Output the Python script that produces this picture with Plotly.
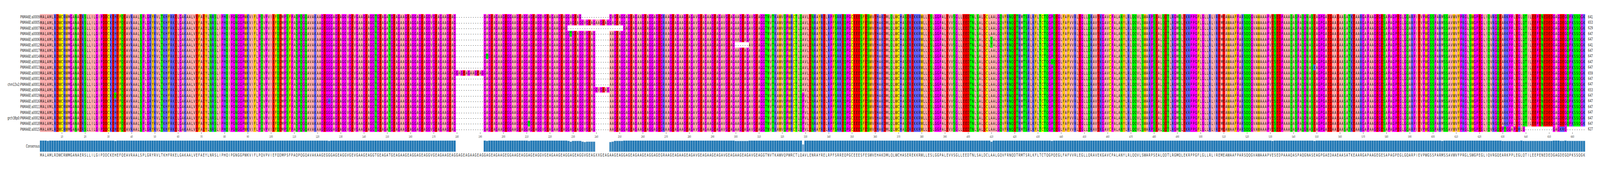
import plotly.graph_objects as go

names = ["PNMA6E:a0009", "PNMA6E:a0005", "PNMA6E:a0007", "PNMA6E:a0008", "PNMA6E:a0006",
         "PNMA6E:a0012", "PNMA6E:a0017", "PNMA6E:a0014", "PNMA6E:a0010", "PNMA6E:a0013",
         "PNMA6E:a0003", "PNMA6E:a0001", "chm13v2:PNMA6E:a0001", "PNMA6E:a0004", "PNMA6E:a0019",
         "PNMA6E:a0016", "PNMA6E:a0011", "PNMA6E:a0002", "grch38p0:PNMA6E:a0002", "PNMA6E:a0018",
         "PNMA6E:a0015"]

# majority row of the alignment, 665 columns, in blocks of ten
base = ("MALAMLRDWC" "RWMGANAERS" "LLILGIPDDC" "KEHEFQEAVR" "AALSPLGRYR"
        "VLTKHFRKEL" "GAKAALVEFA" "EYLNRSLIPH" "QIPGNGGPWK" "VIFLPQVPVI"
        "EFQDMPSFPA" "QPQGQAVAKA" "AGEGGGAGEA" "GGVGEVGAAG" "EAGGTGEAGA"
        "TGEAGAAGEA" "GGAGEAGGVG" "EAGAAGEAG-" "----------" "-GAGEAGAAG"
        "EGGAAGEAGG" "AGEAGGVGEA" "GAAGEAGGAG" "EAGGVGEAG-" "-----AAGEA"
        "GGAGEAGAAG" "EAGGAGEGRA" "AGEAGAAGEA" "GAVGEAGAAG" "EAGAVGEAGA"
        "AGEAGAVGEA" "GGTNVTKAWV" "QPWRCTLQAV" "LENRAYRELR" "PFSRREQPGC"
        "EEESFESWVE" "HAKDMLQLWC" "HASEREKKRW" "LLESLGGPAL" "EVVSGLLEED"
        "TNLSALDCLA" "ALGQVFRNQD" "TRMTSRLKFL" "TCTQGPQEGL" "FAFVVRLEGL"
        "LQRAVEKGAV" "CPALANYLRL" "QQVLSWARPS" "EALQDTLRGM" "QLEKRPPGFL"
        "GLLRLIREME" "AWAAFPARSQ" "QGVAWAAAPV" "ESEDPAAAQA" "SPAQGNASEA"
        "GPGAEDAAEA" "ASATKEAARG" "APAAGEGESA" "PAGPEGLGQA" "RPIEVPWGSS"
        "PARMSSAVWV" "FPRGLSWGPE" "GLIQVRGQEA" "RKPPLEGLQT" "ILEEPENEDE"
        "DGAGDEGQPK" "SSQGK")

# (row, first column, residues) that differ from the majority row
edits = [
    (16, 4, "V"), (14, 33, "Q"), (15, 125, "R"), (10, 180, "GAGEAGAAGEAG"),
    (7, 193, "T"), (19, 211, "T"), (3, 229, "T"),
    (0, 234, "------------GV"), (1, 240, "AAGEAGG"), (13, 235, "A"), (13, 240, "GVGEAG"),
    (2, 228, "------------------------"), (5, 300, "------"),
    (14, 329, "P"), (15, 329, "P"), (16, 329, "P"), (17, 329, "P"), (18, 329, "P"),
    (19, 329, "P"), (20, 329, "P"), (4, 410, "T"), (5, 410, "T"), (8, 436, "S"),
    (6, 531, "D"), (9, 549, "K"), (9, 604, "V"),
    (20, 630, "PTGGAPDH"), (20, 639, "G------------GAGKRG--------"),
]

groups = {"-": 0, "I": 1, "L": 1, "V": 1, "A": 1, "M": 1, "F": 2, "W": 2, "Y": 2,
          "K": 3, "R": 3, "H": 3, "D": 4, "E": 4, "S": 5, "T": 5, "N": 5, "Q": 5,
          "P": 6, "G": 6, "C": 7, "X": 0}
colors = ["#ffffff", "#ffafaf", "#ffc800", "#6464ff", "#ff0000", "#00ff00", "#ff00ff", "#ffff00"]

seqs = []
for r in range(len(names)):
    s = list(base)
    for row, start, res in edits:
        if row == r:
            s[start - 1:start - 1 + len(res)] = list(res)
    seqs.append(s)

ncol = len(base)
cols = list(range(1, ncol + 1))
z = [[groups[c] for c in s] for s in seqs]

cons, frac = [], []
for j in range(ncol):
    column = [s[j] for s in seqs]
    counts = {}
    for c in column:
        if c != "-":
            counts[c] = counts.get(c, 0) + 1
    top = max(counts.values())
    best = [c for c in counts if counts[c] == top]
    cons.append(best[0] if len(best) == 1 else "X")
    gaps = column.count("-")
    frac.append(0 if gaps > top else top / len(seqs))

lengths = [sum(1 for c in s if c != "-") for s in seqs]

cscale = []
for i, c in enumerate(colors):
    cscale.append([i / 8, c])
    cscale.append([(i + 1) / 8, c])

fig = go.Figure()
fig.add_trace(go.Heatmap(
    x=cols, y=list(range(len(names))), z=z, text=seqs, texttemplate="%{text}",
    textfont=dict(size=11, color="black", family="DejaVu Sans"),
    colorscale=cscale, zmin=-0.5, zmax=7.5, showscale=False, hoverinfo="skip",
    xaxis="x", yaxis="y"))
fig.add_trace(go.Bar(
    x=cols, y=frac, marker=dict(color="#1f77b4", opacity=[max(f, 0.01) for f in frac],
                                line=dict(color="#e8eef5", width=0.6)),
    xaxis="x2", yaxis="y2", hoverinfo="skip"))

for i, n in enumerate(lengths):
    fig.add_annotation(x=ncol + 0.5, y=i, xref="x", yref="y", text=str(n), showarrow=False,
                       xanchor="left", xshift=10, font=dict(size=11, color="#262626"))

fig.update_layout(
    width=6940, height=438, margin=dict(l=173, r=64, t=36, b=49),
    paper_bgcolor="white", plot_bgcolor="white", showlegend=False, bargap=0,
    font=dict(family="DejaVu Sans", color="#262626"),
    xaxis=dict(domain=[0, 1], range=[0.5, ncol + 0.5], anchor="y",
               tickvals=list(range(10, ncol + 1, 10)), ticks="outside", ticklen=4,
               tickcolor="#555", tickfont=dict(size=8, color="#444"), showgrid=False,
               zeroline=False, showline=False),
    yaxis=dict(domain=[0.1445, 1], range=[len(names) - 0.5, -0.5], tickvals=list(range(len(names))),
               ticktext=names, ticks="", tickfont=dict(size=11), showgrid=False, zeroline=False),
    xaxis2=dict(domain=[0, 1], range=[0.5, ncol + 0.5], anchor="y2", tickvals=cols,
                ticktext=cons, ticks="", tickangle=0, tickfont=dict(size=11), showgrid=False,
                zeroline=False),
    yaxis2=dict(domain=[0, 0.082], range=[0, 1], tickvals=[0.5], ticktext=["Consensus"],
                ticks="", tickfont=dict(size=11), showgrid=False, zeroline=False),
)

# stretch the fixed-size figure to the window the page is really shown in
fit = """
document.body.style.margin = '0';
document.body.style.overflow = 'hidden';
var gd = document.getElementById('{plot_id}');
var sx = window.innerWidth / 6940;
var sy = window.innerHeight / 438;
gd.style.transformOrigin = '0 0';
gd.style.transform = 'scale(' + sx + ',' + sy + ')';
"""

fig.write_html("out.html", config={"displayModeBar": False}, post_script=fit)
